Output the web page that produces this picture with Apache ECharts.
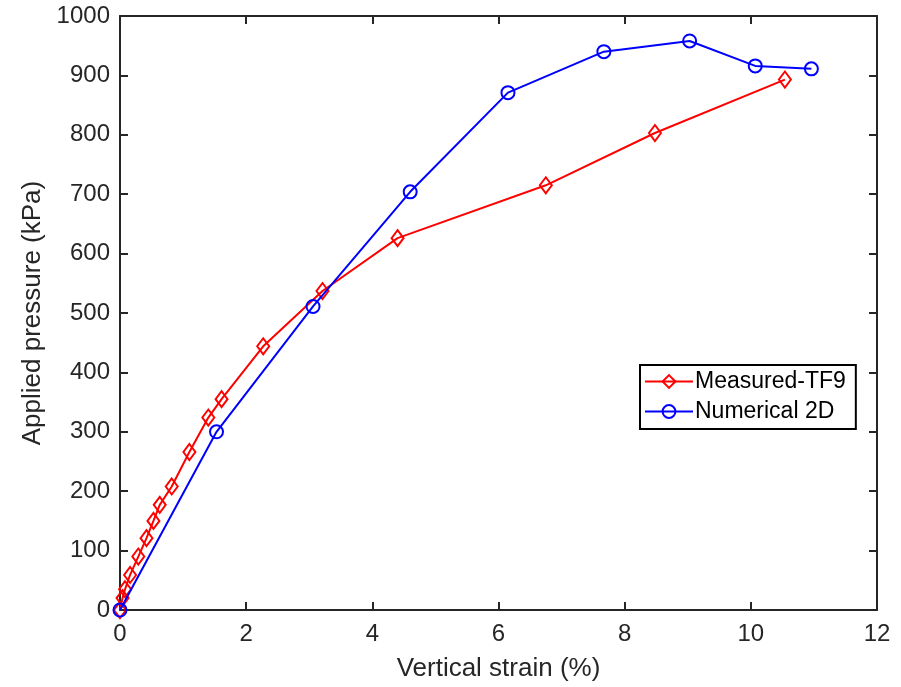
<!DOCTYPE html>
<html>
<head>
<meta charset="utf-8">
<script src="https://cdn.jsdelivr.net/npm/echarts@6/dist/echarts.min.js"></script>
<style>
  html, body { margin: 0; padding: 0; background: #fff; }
  #chart { width: 901px; height: 687px; }
</style>
</head>
<body>
<div id="chart"></div>
<script>
// measured curve (strain %, pressure kPa)
const measuredStrain = [0, 0.04, 0.08, 0.16, 0.29, 0.42, 0.53, 0.63, 0.82, 1.10, 1.40, 1.61, 2.27, 3.21, 4.40, 6.75, 8.48, 10.54];
const measuredPressure = [0, 20, 35, 59, 90, 121, 150, 177, 208, 266, 324, 355, 444, 537, 626, 715, 803, 893];
// numerical model
const numericalStrain = [0, 1.53, 3.06, 4.60, 6.15, 7.67, 9.03, 10.07, 10.96];
const numericalPressure = [0, 300, 511, 704, 871, 940, 958, 916, 911];

const textColor = '#262626';
const font = 'Liberation Sans, Arial, sans-serif';

function pairs(xs, ys) {
  return xs.map((x, i) => [x, ys[i]]);
}

const chart = echarts.init(document.getElementById('chart'));

// box axes with inward ticks (matlab look)
const axisLine = { show: true, onZero: false, lineStyle: { color: textColor, width: 2 } };
const tickIn = { show: true, inside: true, length: 8, lineStyle: { color: textColor, width: 2 } };

const option = {
  animation: false,
  backgroundColor: '#fff',
  grid: { left: 120, right: 24, top: 16, bottom: 77, outerBoundsMode: 'none' },
  legend: {
    orient: 'vertical',
    left: 640,
    top: 365,
    padding: [5, 10, 6, 4],
    itemGap: 7,
    itemWidth: 48,
    itemHeight: 16,
    backgroundColor: '#fff',
    borderColor: '#000',
    borderWidth: 2,
    borderRadius: 0,
    textStyle: { color: '#000', fontSize: 23, fontFamily: font, padding: [0, 0, 0, -3] },
    data: ['Measured-TF9', 'Numerical 2D']
  },
  xAxis: [{
    type: 'value',
    min: 0,
    max: 12,
    interval: 2,
    name: 'Vertical strain (%)',
    nameLocation: 'middle',
    nameGap: 46,
    nameTextStyle: { color: textColor, fontSize: 26, fontFamily: font },
    axisLine: axisLine,
    axisTick: tickIn,
    axisLabel: { color: textColor, fontSize: 24, fontFamily: font, margin: 12 },
    splitLine: { show: false }
  }, {
    type: 'value',
    position: 'top',
    min: 0,
    max: 12,
    interval: 2,
    axisLine: axisLine,
    axisTick: tickIn,
    axisLabel: { show: false },
    splitLine: { show: false }
  }],
  yAxis: [{
    type: 'value',
    min: 0,
    max: 1000,
    interval: 100,
    name: 'Applied pressure (kPa)',
    nameLocation: 'middle',
    nameGap: 74,
    nameTextStyle: { color: textColor, fontSize: 26, fontFamily: font },
    axisLine: axisLine,
    axisTick: tickIn,
    axisLabel: { color: textColor, fontSize: 24, fontFamily: font, margin: 10, formatter: (v) => String(v) },
    splitLine: { show: false }
  }, {
    type: 'value',
    position: 'right',
    min: 0,
    max: 1000,
    interval: 100,
    axisLine: axisLine,
    axisTick: tickIn,
    axisLabel: { show: false },
    splitLine: { show: false }
  }],
  series: [{
    name: 'Measured-TF9',
    type: 'line',
    data: pairs(measuredStrain, measuredPressure),
    symbol: 'diamond',
    symbolSize: [12, 16],
    showAllSymbol: true,
    lineStyle: { color: '#ff0000', width: 2 },
    itemStyle: { color: 'rgba(255,255,255,0)', borderColor: '#ff0000', borderWidth: 2 },
    z: 3
  }, {
    name: 'Numerical 2D',
    type: 'line',
    data: pairs(numericalStrain, numericalPressure),
    symbol: 'circle',
    symbolSize: 13,
    showAllSymbol: true,
    lineStyle: { color: '#0000ff', width: 2 },
    itemStyle: { color: 'rgba(255,255,255,0)', borderColor: '#0000ff', borderWidth: 2 },
    z: 4
  }]
};

chart.setOption(option);
</script>
</body>
</html>
